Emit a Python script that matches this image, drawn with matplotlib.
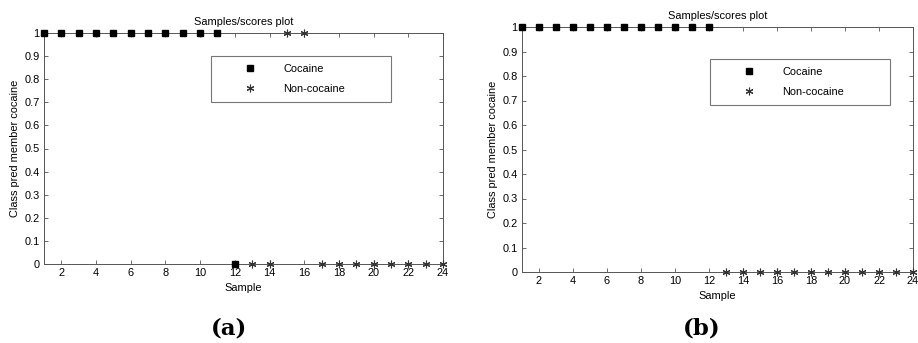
import matplotlib
matplotlib.use('Agg')
import matplotlib.pyplot as plt

plt.rcParams['font.family'] = ['Liberation Sans', 'DejaVu Sans']

# panel (a)
a_coc_x = [1, 2, 3, 4, 5, 6, 7, 8, 9, 10, 11, 12]
a_coc_y = [1, 1, 1, 1, 1, 1, 1, 1, 1, 1, 1, 0]
a_non_x = [13, 14, 15, 16, 17, 18, 19, 20, 21, 22, 23, 24]
a_non_y = [0, 0, 1, 1, 0, 0, 0, 0, 0, 0, 0, 0]

# panel (b)
b_coc_x = [1, 2, 3, 4, 5, 6, 7, 8, 9, 10, 11, 12]
b_coc_y = [1, 1, 1, 1, 1, 1, 1, 1, 1, 1, 1, 1]
b_non_x = [13, 14, 15, 16, 17, 18, 19, 20, 21, 22, 23, 24]
b_non_y = [0, 0, 0, 0, 0, 0, 0, 0, 0, 0, 0, 0]

xticks = [2, 4, 6, 8, 10, 12, 14, 16, 18, 20, 22, 24]
yticks = [0, 0.1, 0.2, 0.3, 0.4, 0.5, 0.6, 0.7, 0.8, 0.9, 1]
ytick_labels = ['0', '0.1', '0.2', '0.3', '0.4', '0.5', '0.6', '0.7', '0.8', '0.9', '1']

W, H = 918, 343
fig = plt.figure(figsize=(W / 100, H / 100), dpi=100)
FS = 7.9


def px_axes(l, t, r, b):
    return fig.add_axes([l / W, 1 - b / H, (r - l) / W, (b - t) / H])


def draw_panel(ax, cx, cy, nx, ny, leg_box, letter, letter_x, letter_y, xlab_pad):
    ax.plot(cx, cy, linestyle='none', marker='s', markersize=5, color='black',
            label='Cocaine', clip_on=False, zorder=3)
    ax.plot(nx, ny, linestyle='none', marker=(6, 2, 0), markersize=5.5,
            color='#333333', markeredgewidth=0.8, label='Non-cocaine',
            clip_on=False, zorder=3)
    ax.set_xlim(1, 24)
    ax.set_ylim(0, 1)
    ax.set_xticks(xticks)
    ax.set_yticks(yticks)
    ax.set_yticklabels(ytick_labels)
    ax.tick_params(direction='in', top=True, right=True, labelsize=FS,
                   length=3, width=0.6, color='#555555', pad=3.2)
    for s in ax.spines.values():
        s.set_linewidth(0.7)
        s.set_color('#555555')
    ax.set_title('Samples/scores plot', fontsize=FS, pad=6)
    ax.set_xlabel('Sample', fontsize=FS, labelpad=xlab_pad)
    ax.set_ylabel('Class pred member cocaine', fontsize=FS, labelpad=3)
    l, t, r, b = leg_box
    leg = ax.legend(loc='lower left',
                    bbox_to_anchor=(l / W, 1 - b / H, (r - l) / W, (b - t) / H),
                    bbox_transform=fig.transFigure, mode='expand',
                    fontsize=FS, frameon=True, fancybox=False,
                    borderaxespad=0, handletextpad=0.25, borderpad=0.75,
                    labelspacing=0.9, handlelength=5.6)
    leg.get_frame().set_edgecolor('#555555')
    leg.get_frame().set_linewidth(0.8)
    fig.text(letter_x / W, 1 - letter_y / H, letter, fontsize=16.5,
             fontweight='bold', family='DejaVu Serif', ha='center', va='center')


ax1 = px_axes(44, 33, 443, 264)
draw_panel(ax1, a_coc_x, a_coc_y, a_non_x, a_non_y, (211, 53, 391, 102),
           '(a)', 229, 329, 3.2)
ax2 = px_axes(522, 27, 913, 272)
draw_panel(ax2, b_coc_x, b_coc_y, b_non_x, b_non_y, (710, 56, 890, 105),
           '(b)', 702, 328, 3.2)

fig.savefig('out.png', dpi=100)
